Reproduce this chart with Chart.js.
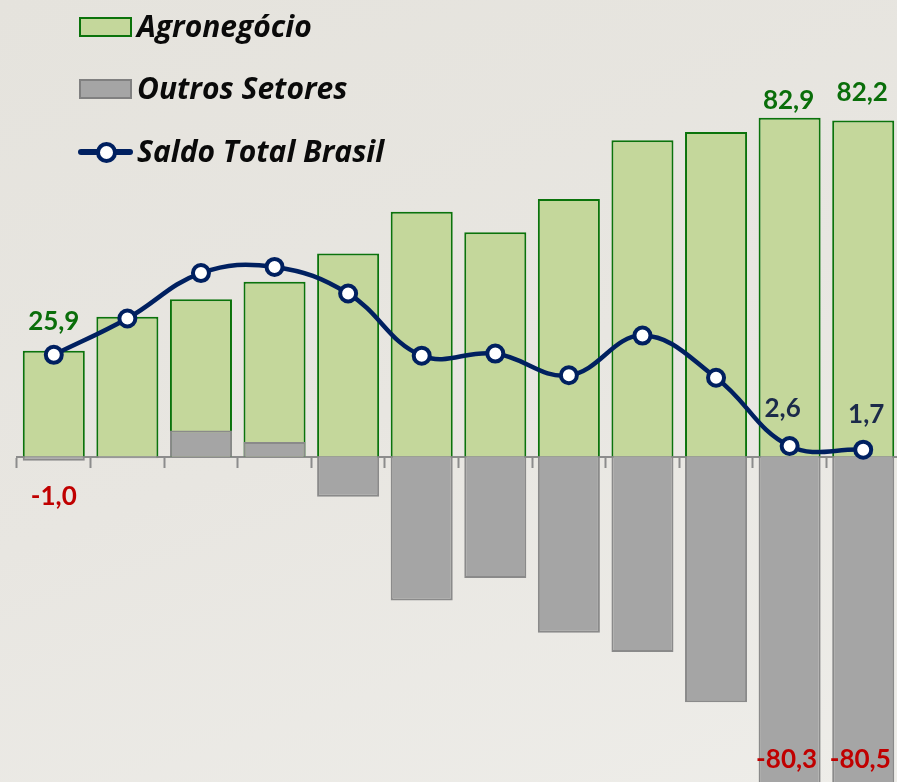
<!DOCTYPE html>
<html>
<head>
<meta charset="utf-8">
<script src="https://cdn.jsdelivr.net/npm/chart.js@4.4.0/dist/chart.umd.min.js"></script>
<style>
html,body{margin:0;padding:0;width:897px;height:782px;overflow:hidden;}
body{position:relative;background:linear-gradient(160deg,#e5e3dd 0%,#e8e6e1 50%,#eeede9 100%);font-family:"Open Sans",Lato,sans-serif;}
#wrap{position:absolute;left:0;top:0;width:900px;height:800px;}
.sw{position:absolute;left:79px;width:53px;height:20px;box-sizing:border-box;border:2px solid;}
.tx{position:absolute;left:137px;height:40px;line-height:40px;font-weight:700;font-style:italic;font-size:30px;color:#0a0a0a;white-space:nowrap;font-family:"Open Sans",sans-serif;}
.ln{position:absolute;left:78px;top:149px;width:55px;height:6px;border-radius:3px;background:#002060;}
.mk{position:absolute;left:96px;top:142px;width:21px;height:21px;box-sizing:border-box;border:4px solid #002060;border-radius:50%;background:#fff;}
</style>
</head>
<body>
<div id="wrap"><canvas id="c" width="900" height="800"></canvas></div>
<div class="sw" style="top:17px;background:#c4d79b;border-color:#0b730b;"></div>
<div class="tx" style="top:6px;">Agronegócio</div>
<div class="sw" style="top:79px;background:#a5a5a5;border-color:#808080;"></div>
<div class="tx" style="top:68px;">Outros Setores</div>
<div class="ln"></div><div class="mk"></div>
<div class="tx" style="top:131px;">Saldo Total Brasil</div>
<script>
const categories = ['2003','2004','2005','2006','2007','2008','2009','2010','2011','2012','2013','2014'];
const agronegocio = [25.9, 34.2, 38.5, 42.8, 49.7, 59.9, 54.9, 63.0, 77.4, 79.4, 82.9, 82.2];
const outrosSetores = [-1.0, -0.4, 6.4, 3.6, -9.8, -35.2, -29.7, -43.1, -47.8, -60.1, -80.3, -80.5];
const saldoTotal = [24.9, 33.8, 44.9, 46.4, 39.9, 24.7, 25.2, 19.9, 29.6, 19.3, 2.6, 1.7];

const fmt = v => v.toFixed(1).replace('.', ',');

const labelPlugin = {
  id: 'valueLabels',
  afterDatasetsDraw(chart, args, opts) {
    const ctx = chart.ctx;
    ctx.save();
    ctx.font = 'bold 26px Lato, "Open Sans", sans-serif';
    ctx.textAlign = 'center';
    ctx.textBaseline = 'alphabetic';
    opts.items.forEach(it => {
      const el = chart.getDatasetMeta(it.ds).data[it.i];
      const v = chart.data.datasets[it.ds].data[it.i];
      ctx.fillStyle = it.color;
      ctx.fillText(fmt(v), el.x + it.dx, el.y + it.dy + 10);
    });
    ctx.restore();
  }
};

new Chart(document.getElementById('c'), {
  data: {
    labels: categories,
    datasets: [
      {
        type: 'line', label: 'Saldo Total Brasil', data: saldoTotal, order: 0,
        borderColor: '#002060', borderWidth: 4.5, tension: 0.4, clip: false,
        pointRadius: 8, pointBorderWidth: 4, pointBackgroundColor: '#ffffff', pointBorderColor: '#002060'
      },
      {
        type: 'bar', label: 'Outros Setores', data: outrosSetores, order: 1, grouped: false,
        backgroundColor: '#a5a5a5', borderColor: '#8a8a8a', borderWidth: 2,
        categoryPercentage: 1, barPercentage: 0.843
      },
      {
        type: 'bar', label: 'Agronegócio', data: agronegocio, order: 2, grouped: false,
        backgroundColor: '#c4d79b', borderColor: '#0b730b', borderWidth: 2,
        categoryPercentage: 1, barPercentage: 0.843
      }
    ]
  },
  options: {
    responsive: false,
    devicePixelRatio: 1,
    animation: false,
    layout: { autoPadding: false, padding: { left: 17, right: 0, top: 0, bottom: 0 } },
    plugins: {
      legend: { display: false },
      tooltip: { enabled: false },
      valueLabels: {
        items: [
          { ds: 2, i: 0, dx: 0, dy: -31, color: '#0a6e0a' },
          { ds: 2, i: 10, dx: -1, dy: -19, color: '#0a6e0a' },
          { ds: 2, i: 11, dx: -1, dy: -30, color: '#0a6e0a' },
          { ds: 1, i: 0, dx: 0, dy: 34, color: '#c00000' },
          { ds: 1, i: 10, dx: -3, dy: -27, color: '#c00000' },
          { ds: 1, i: 11, dx: -3, dy: -28, color: '#c00000' },
          { ds: 0, i: 10, dx: -7, dy: -39, color: '#1b2a4a' },
          { ds: 0, i: 11, dx: 3, dy: -37, color: '#1b2a4a' }
        ]
      }
    },
    scales: {
      x: {
        type: 'category',
        position: { y: 0 },
        offset: true,
        grid: { display: true, offset: true, drawOnChartArea: false, drawTicks: true, tickLength: 10, tickWidth: 2, tickColor: '#8c8c8c' },
        border: { display: true, color: '#8c8c8c', width: 2 },
        ticks: { display: false }
      },
      y: {
        type: 'linear',
        display: false,
        min: -84.0,
        max: 111.7
      }
    }
  },
  plugins: [labelPlugin]
});
</script>
</body>
</html>
